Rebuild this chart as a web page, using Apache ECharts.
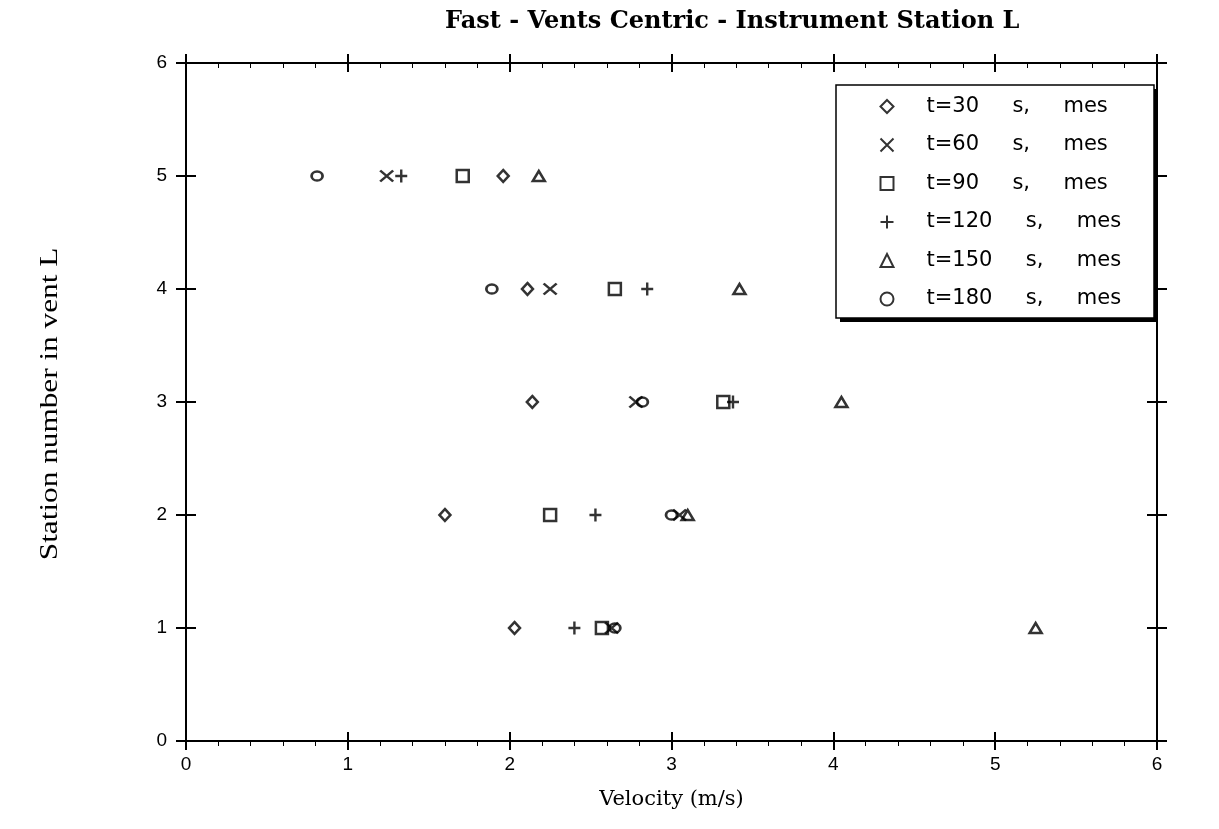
<!DOCTYPE html>
<html>
<head>
<meta charset="utf-8">
<script src="https://cdn.jsdelivr.net/npm/echarts@6/dist/echarts.min.js"></script>
<style>
html,body{margin:0;padding:0;background:#fff;}
#chart{width:1219px;height:829px;}
</style>
</head>
<body>
<div id="chart"></div>
<script>
// Data
const stations = [1, 2, 3, 4, 5];
const seriesNames = ['t=30 s, mes', 't=60 s, mes', 't=90 s, mes', 't=120 s, mes', 't=150 s, mes', 't=180 s, mes'];
const v30  = [2.03, 1.60, 2.14, 2.11, 1.96];
const v60  = [2.63, 3.05, 2.78, 2.25, 1.24];
const v90  = [2.57, 2.25, 3.32, 2.65, 1.71];
const v120 = [2.40, 2.53, 3.38, 2.85, 1.33];
const v150 = [5.25, 3.10, 4.05, 3.42, 2.18];
const v180 = [2.65, 3.00, 2.82, 1.89, 0.81];
const xTicks = [0, 1, 2, 3, 4, 5, 6];
const yTicks = [0, 1, 2, 3, 4, 5, 6];
const titleText = 'Fast - Vents Centric - Instrument Station L';
const xName = 'Velocity (m/s)';
const yName = 'Station number in vent L';

const allValues = [v30, v60, v90, v120, v150, v180];
const symbols = [
  'diamond',
  'path://M0,0L10,10M10,0L0,10',
  'rect',
  'path://M5,0L5,10M0,5L10,5',
  'triangle',
  'circle'
];
const sizes = [[11, 12], [13, 11], [12, 12], [12, 13], [12, 10], [11, 9]];

const black = '#000';
const tickFont = {fontFamily: 'Liberation Sans', fontSize: 19, color: black};

function xAx(pos, inside, showLabel, extra) {
  return Object.assign({
    type: 'value', min: 0, max: 6, interval: 1, position: pos, gridIndex: 0,
    axisLine: {show: true, onZero: false, lineStyle: {color: black, width: 2}},
    axisTick: {show: true, inside: inside, length: 9, lineStyle: {color: black, width: 2}},
    minorTick: {show: true, splitNumber: 5, length: 5, lineStyle: {color: black, width: 1}},
    axisLabel: showLabel ? Object.assign({margin: 14, formatter: v => xTicks.includes(v) ? String(v) : ''}, tickFont) : {show: false},
    splitLine: {show: false}
  }, extra || {});
}
function yAx(pos, inside, showLabel, extra) {
  return Object.assign({
    type: 'value', min: 0, max: 6, interval: 1, position: pos, gridIndex: 0,
    axisLine: {show: true, onZero: false, lineStyle: {color: black, width: 2}},
    axisTick: {show: true, inside: inside, length: 10, lineStyle: {color: black, width: 2}},
    axisLabel: showLabel ? Object.assign({margin: 19, formatter: v => yTicks.includes(v) ? String(v) : ''}, tickFont) : {show: false},
    splitLine: {show: false}
  }, extra || {});
}

const series = allValues.map((vals, i) => ({
  name: seriesNames[i],
  type: 'scatter',
  xAxisIndex: 0,
  yAxisIndex: 0,
  symbol: symbols[i],
  symbolSize: sizes[i],
  itemStyle: {color: 'none', borderColor: black, borderWidth: 2.5},
  emphasis: {disabled: true},
  data: vals.map((v, k) => [v, stations[k]])
}));

const chart = echarts.init(document.getElementById('chart'), null, {renderer: 'canvas'});
chart.setOption({
  animation: false,
  backgroundColor: '#fff',
  title: {
    text: titleText,
    left: 440, top: 5,
    textStyle: {fontFamily: 'DejaVu Serif', fontWeight: 'bold', fontSize: 24, color: black}
  },
  grid: {left: 186, right: 62, top: 63, bottom: 88, containLabel: false},
  graphic: [
    {type: 'rect', z: 3, shape: {x: 840, y: 89, width: 318, height: 233}, style: {fill: black}},
    {type: 'rect', z: 3, shape: {x: 836, y: 85, width: 318, height: 233}, style: {fill: '#fff', stroke: black, lineWidth: 1.5}},
    {type: 'text', z: 3, x: 50, y: 404, rotation: Math.PI / 2, scaleX: 1.25,
     style: {text: yName, fontFamily: 'Liberation Serif', fontSize: 25, fill: black, align: 'center', verticalAlign: 'middle'}}
  ],
  legend: {
    orient: 'vertical',
    left: 836, top: 85, z: 5,
    padding: [11, 0, 0, 42],
    itemGap: 17.5,
    itemWidth: 13, itemHeight: 13,
    formatter: n => n.split(' ').join('     '),
    textStyle: {fontFamily: 'DejaVu Sans', fontSize: 21, lineHeight: 20, color: black, padding: [0, 0, 0, 28]},
    data: seriesNames.map((n, i) => ({name: n, icon: symbols[i], itemStyle: {color: 'none', borderColor: black, borderWidth: 2}}))
  },
  xAxis: [
    xAx('bottom', false, true, {
      name: xName, nameLocation: 'middle', nameGap: 48,
      nameTextStyle: {fontFamily: 'DejaVu Serif', fontSize: 21, color: black}
    }),
    xAx('bottom', true, false, {minorTick: {show: false}}),
    xAx('top', false, false, {minorTick: {show: false}}),
    xAx('top', true, false)
  ],
  yAxis: [
    yAx('left', false, true),
    yAx('left', true, false),
    yAx('right', false, false),
    yAx('right', true, false)
  ],
  series: series
});
</script>
</body>
</html>
